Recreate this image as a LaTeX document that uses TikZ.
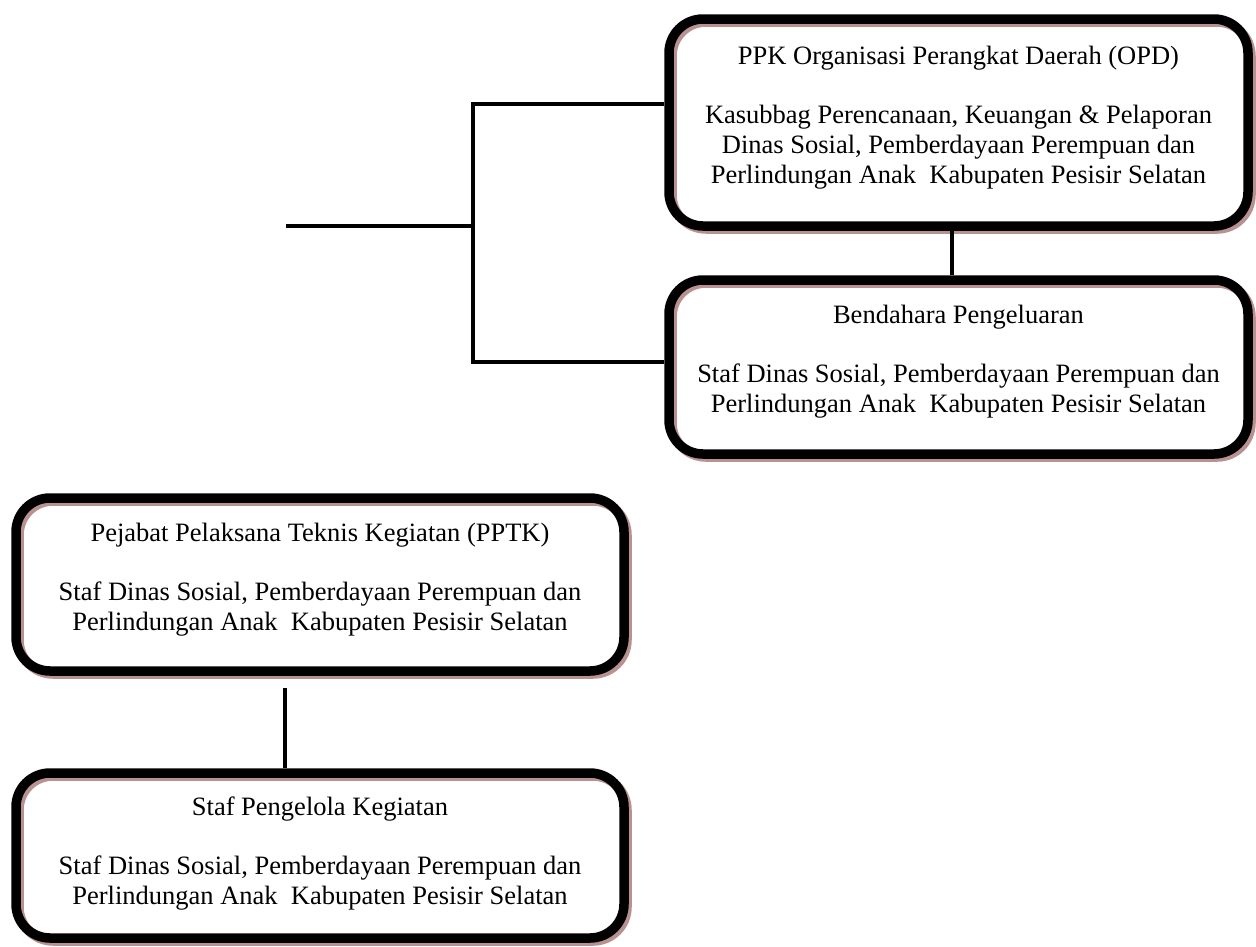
\documentclass[tikz,border=0pt]{standalone}
\usepackage{fontspec}
\setmainfont{Liberation Serif}
\definecolor{shadowc}{RGB}{185,145,145}
\begin{document}
\begin{tikzpicture}[x=1pt,y=-1pt,
  box/.style={draw=black, line width=9.5pt, rounded corners=34pt, inner sep=0pt,
    preaction={draw=shadowc, transform canvas={shift={(3pt,-3pt)}}}},
  txt/.style={align=center, inner sep=0pt, anchor=north,
    font=\fontsize{26.5}{30}\selectfont},
  conn/.style={line width=4pt},
  thinconn/.style={line width=3.5pt}]
\useasboundingbox (0,0) rectangle (1256,946);

% boxes
\node[box, minimum width=579pt, minimum height=207pt] (b1) at (958.5,122.5) {};
\node[box, minimum width=579pt, minimum height=174pt] (b2) at (958.5,367) {};
\node[box, minimum width=608pt, minimum height=173pt] (b3) at (320,584.5) {};
\node[box, minimum width=608pt, minimum height=165pt] (b4) at (320,855.5) {};

% texts
\node[txt] (t1) at (958.5,45.5)
  {PPK Organisasi Perangkat Daerah (OPD)\\[29pt]
   Kasubbag Perencanaan, Keuangan \& Pelaporan\\
   Dinas Sosial, Pemberdayaan Perempuan dan\\
   Perlindungan Anak\ \ Kabupaten Pesisir Selatan};
\node[txt] (t2) at (958.5,304.5)
  {Bendahara Pengeluaran\\[29pt]
   Staf Dinas Sosial, Pemberdayaan Perempuan dan\\
   Perlindungan Anak\ \ Kabupaten Pesisir Selatan};
\node[txt] (t3) at (320,522.5)
  {Pejabat Pelaksana Teknis Kegiatan (PPTK)\\[29pt]
   Staf Dinas Sosial, Pemberdayaan Perempuan dan\\
   Perlindungan Anak\ \ Kabupaten Pesisir Selatan};
\node[txt] (t4) at (320,796.5)
  {Staf Pengelola Kegiatan\\[29pt]
   Staf Dinas Sosial, Pemberdayaan Perempuan dan\\
   Perlindungan Anak\ \ Kabupaten Pesisir Selatan};

% connectors
\coordinate (bt) at (473,104);
\coordinate (bb) at (473,362);
\coordinate (bm) at (473,226);
\coordinate (lft) at (286,226);
\draw[thinconn] (bt -| b1.west) -- (bt) -- (bb) -- (bb -| b2.west);
\draw[thinconn] (lft) -- (bm);
\draw[conn] ([xshift=-7pt]b1.south) -- ([xshift=-7pt]b2.north);
\coordinate (c34) at (285,688);
\draw[conn] (c34) -- (c34 |- b4.north);
\end{tikzpicture}
\end{document}
